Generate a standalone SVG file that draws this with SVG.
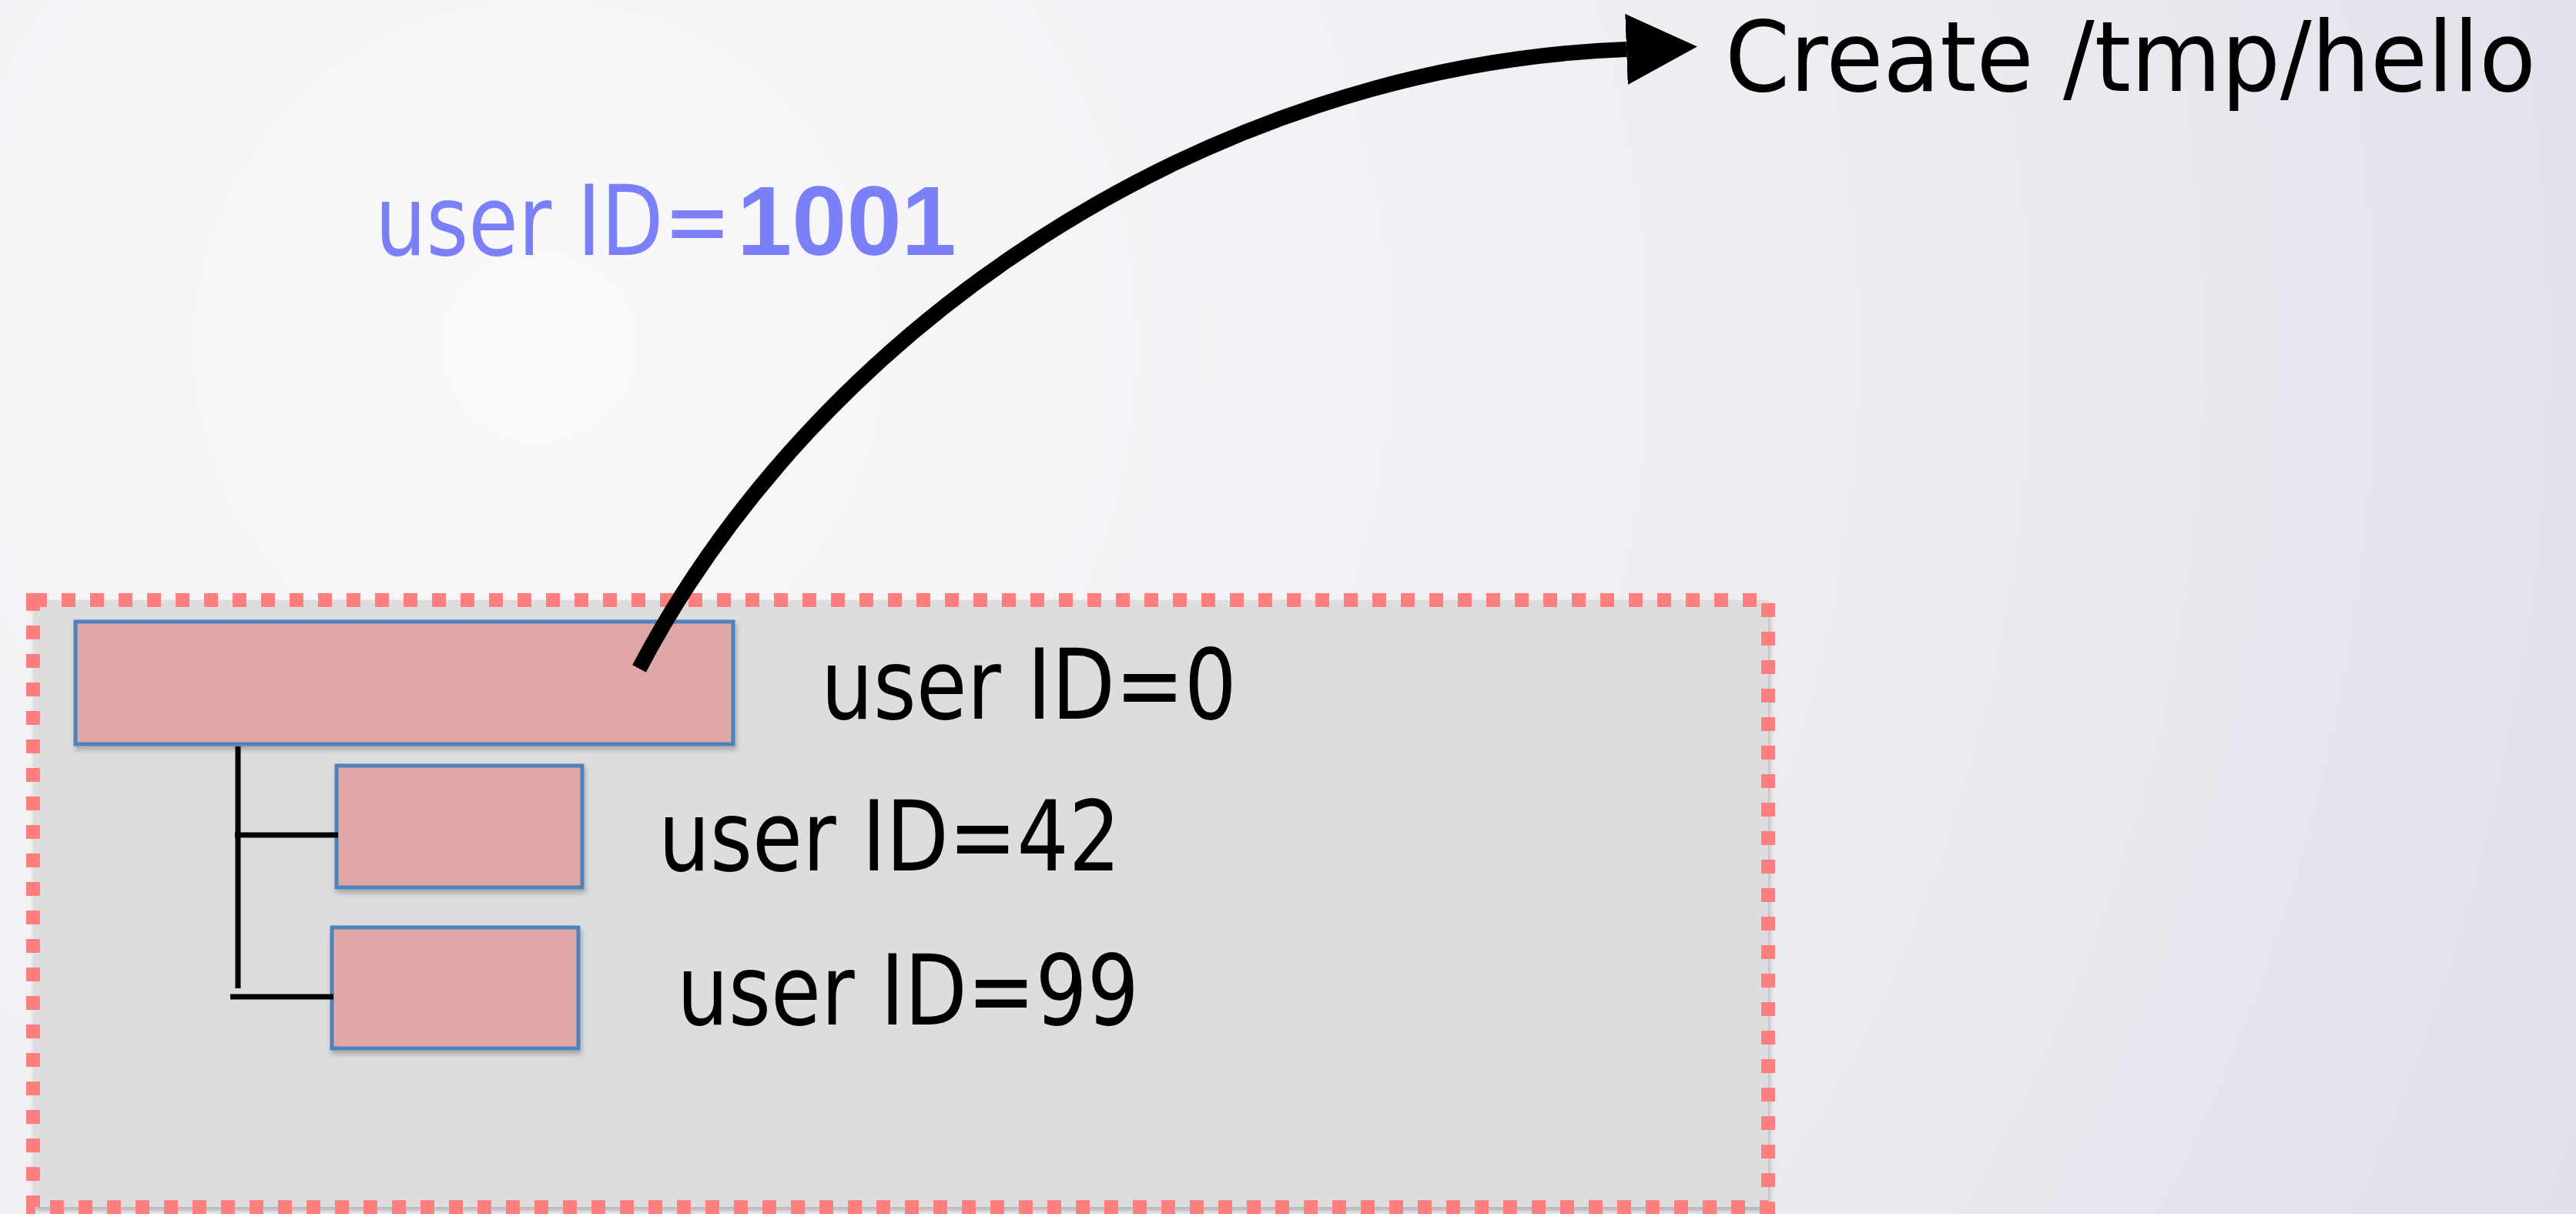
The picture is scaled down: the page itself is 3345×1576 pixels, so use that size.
<svg xmlns="http://www.w3.org/2000/svg" width="3345" height="1576" viewBox="0 0 3345 1576">
  <defs>
    <radialGradient id="bg" cx="700" cy="450" r="2900" gradientUnits="userSpaceOnUse">
      <stop offset="0" stop-color="#f9f9fb"/>
      <stop offset="0.45" stop-color="#f0f0f4"/>
      <stop offset="1" stop-color="#e0e0ea"/>
    </radialGradient>
    <filter id="shadow" x="-5%" y="-5%" width="112%" height="120%">
      <feDropShadow dx="2" dy="5" stdDeviation="3" flood-color="#000" flood-opacity="0.25"/>
    </filter>
    <marker id="head" markerUnits="userSpaceOnUse" markerWidth="94" markerHeight="94" refX="0" refY="46" orient="auto" viewBox="0 0 94 92">
      <path d="M0,0 L92,46 L0,92 Z" fill="#000"/>
    </marker>
    <style>
      .proc { fill: #e0a7a7; stroke: #4f81bd; stroke-width: 5; filter: url(#shadow); }
      .lbl { font-family: "DejaVu Sans", "Noto Sans", sans-serif; font-size: 126px; fill: #000; }
      .num { font-family: "Liberation Sans", Arial, sans-serif; font-size: 128px; font-weight: bold; }
      .blue { fill: #7b80f8; }
      .tree { stroke: #000; stroke-width: 7; fill: none; }
    </style>
  </defs>

  <!-- slide background -->
  <rect x="0" y="0" width="3345" height="1576" fill="url(#bg)"/>

  <!-- namespace container -->
  <g id="container">
    <rect x="43" y="779" width="2253" height="788" fill="#dddddd" filter="url(#shadow)"/>
    <rect x="43" y="779" width="2253" height="788" fill="none" stroke="#ff7f7f" stroke-width="18" stroke-dasharray="18 19"/>
  </g>

  <g id="proc-root">
    <rect class="proc" x="98" y="807" width="854" height="159"/>
    <text class="lbl" x="1066" y="933" textLength="540" lengthAdjust="spacingAndGlyphs">user ID=0</text>
  </g>

  <g id="proc-42">
    <rect class="proc" x="437" y="994" width="319" height="158"/>
    <text class="lbl" x="855" y="1130" textLength="600" lengthAdjust="spacingAndGlyphs">user ID=42</text>
  </g>

  <g id="proc-99">
    <rect class="proc" x="431" y="1204" width="320" height="157"/>
    <text class="lbl" x="879" y="1330" textLength="600" lengthAdjust="spacingAndGlyphs">user ID=99</text>
  </g>

  <g id="outside-id">
    <text class="lbl blue" transform="translate(487,331) scale(0.834,1)">user ID=</text>
    <text class="num blue" x="957" y="331">1001</text>
  </g>

  <g id="target-file">
    <text class="lbl" x="2240" y="118" textLength="1053" lengthAdjust="spacingAndGlyphs">Create /tmp/hello</text>
  </g>

  <!-- process tree links and the file-creation arrow -->
  <g id="connectors">
    <line class="tree" x1="309" y1="969" x2="309" y2="1283"/>
    <line class="tree" x1="305" y1="1084" x2="439" y2="1084"/>
    <line class="tree" x1="299" y1="1294" x2="433" y2="1294"/>
    <path d="M830,868 C1060,430 1560,85 2112,64" fill="none" stroke="#000" stroke-width="20" marker-end="url(#head)"/>
  </g>
</svg>
